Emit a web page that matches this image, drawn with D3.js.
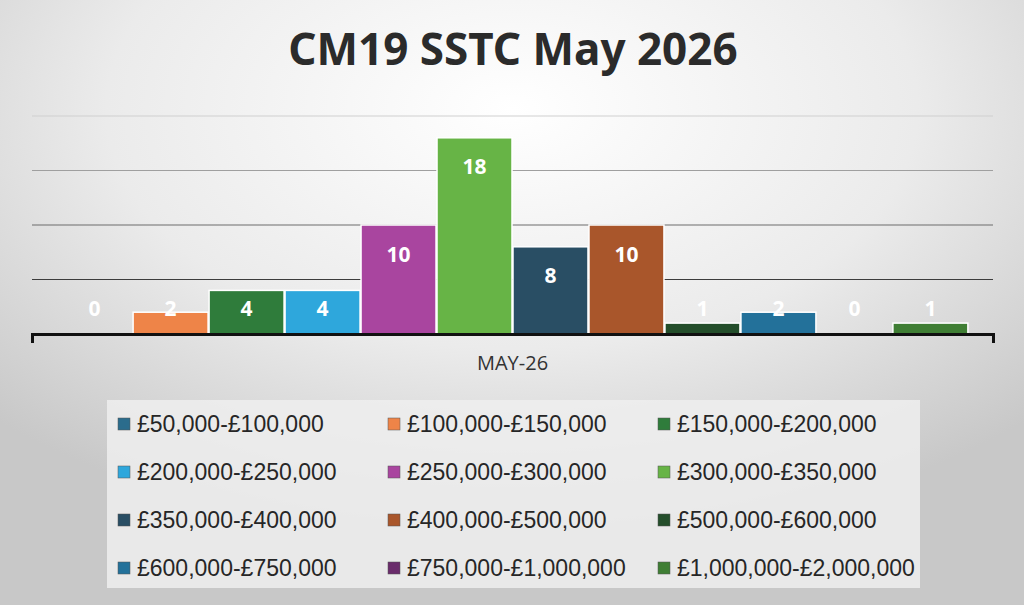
<!DOCTYPE html>
<html>
<head>
<meta charset="utf-8">
<script src="https://cdn.jsdelivr.net/npm/d3@7"></script>
<style>
  html, body { margin: 0; padding: 0; }
  body { width: 1024px; height: 605px; overflow: hidden; }
  text { font-family: "Liberation Sans", Arial, sans-serif; }
</style>
</head>
<body>
<div id="chart"></div>
<script>
// data
const categories = ['MAY-26'];
const bands = [
  '£50,000-£100,000', '£100,000-£150,000', '£150,000-£200,000',
  '£200,000-£250,000', '£250,000-£300,000', '£300,000-£350,000',
  '£350,000-£400,000', '£400,000-£500,000', '£500,000-£600,000',
  '£600,000-£750,000', '£750,000-£1,000,000', '£1,000,000-£2,000,000'
];
const counts = [0, 2, 4, 4, 10, 18, 8, 10, 1, 2, 0, 1];
const colours = [
  '#2b6c8c', '#ee8448', '#2f7c3b', '#2ea7dc', '#a9459f', '#67b446',
  '#294e64', '#a9562b', '#244e2b', '#23719a', '#6a2c6b', '#3f7e34'
];
const gridTicks = [5, 10, 15, 20];

const W = 1024, H = 605;
const plot = { left: 32, right: 993, top: 116, bottom: 334 };

const svg = d3.select('#chart').append('svg')
  .attr('width', W)
  .attr('height', H);

// background
const defs = svg.append('defs');
const bg = defs.append('radialGradient')
  .attr('id', 'bg')
  .attr('cx', '50%').attr('cy', '18%').attr('r', '72%');
bg.append('stop').attr('offset', '0%').attr('stop-color', '#ffffff');
bg.append('stop').attr('offset', '55%').attr('stop-color', '#ebebeb');
bg.append('stop').attr('offset', '100%').attr('stop-color', '#c8c8c8');

svg.append('rect')
  .attr('width', W).attr('height', H)
  .attr('fill', 'url(#bg)');

// title
svg.append('text')
  .attr('x', 513).attr('y', 65)
  .attr('text-anchor', 'middle')
  .style('font-family', '"Noto Sans", sans-serif')
  .style('font-weight', 700)
  .style('font-size', '44px')
  .attr('fill', '#2b2b2b')
  .text('CM19 SSTC May 2026');

// scales
const x0 = d3.scaleBand()
  .domain(categories)
  .range([plot.left, plot.right])
  .paddingInner(0)
  .paddingOuter(0.027);

const x1 = d3.scaleBand()
  .domain(bands)
  .range([0, x0.bandwidth()]);

const y = d3.scaleLinear()
  .domain([0, 20])
  .range([plot.bottom, plot.top]);

const gridColour = d3.scaleLinear()
  .domain([5, 20])
  .range(['#3c3c3c', '#d0d0d0']);

// gridlines
svg.append('g')
  .selectAll('line')
  .data(gridTicks)
  .join('line')
  .attr('x1', plot.left).attr('x2', plot.right)
  .attr('y1', d => y(d)).attr('y2', d => y(d))
  .attr('stroke', d => gridColour(d))
  .attr('stroke-width', 1.2);

// bars
const group = svg.append('g')
  .selectAll('g')
  .data(categories)
  .join('g')
  .attr('transform', d => 'translate(' + x0(d) + ',0)');

group.selectAll('rect')
  .data(bands.map((b, i) => ({ band: b, value: counts[i], colour: colours[i] })))
  .join('rect')
  .attr('x', d => x1(d.band) + 0.5)
  .attr('width', x1.bandwidth() - 1)
  .attr('y', d => y(d.value))
  .attr('height', d => y(0) - y(d.value))
  .attr('fill', d => d.colour)
  .attr('stroke', '#ffffff')
  .attr('stroke-width', d => d.value > 0 ? 1.5 : 0);

group.selectAll('text')
  .data(bands.map((b, i) => ({ band: b, value: counts[i] })))
  .join('text')
  .attr('x', d => x1(d.band) + x1.bandwidth() / 2)
  .attr('y', d => Math.min(y(d.value) + 29, y(0) - 26))
  .attr('dy', '0.36em')
  .attr('text-anchor', 'middle')
  .style('font-family', '"Noto Sans", sans-serif')
  .style('font-weight', 700)
  .style('font-size', '21px')
  .attr('fill', '#ffffff')
  .text(d => d.value);

// x axis
const xAxis = d3.axisBottom(x0)
  .tickSizeInner(0)
  .tickSizeOuter(9)
  .tickPadding(22);

const ax = svg.append('g')
  .attr('transform', 'translate(0,' + plot.bottom + ')')
  .call(xAxis);
ax.select('.domain')
  .attr('stroke', '#111')
  .attr('stroke-width', 3);
ax.selectAll('.tick text')
  .style('font-family', '"Open Sans", sans-serif')
  .style('font-size', '20px')
  .attr('fill', '#333');

// legend
const legend = { x: 107, y: 400, w: 813, h: 188, col: 270, row: 48 };

svg.append('rect')
  .attr('x', legend.x).attr('y', legend.y)
  .attr('width', legend.w).attr('height', legend.h)
  .attr('fill', '#eeeeee')
  .attr('opacity', 0.85);

const items = svg.append('g')
  .selectAll('g')
  .data(bands.map((b, i) => ({ band: b, colour: colours[i], i: i })))
  .join('g')
  .attr('transform', d => 'translate(' + (legend.x + 11 + (d.i % 3) * legend.col) + ',' +
    (legend.y + 24 + Math.floor(d.i / 3) * legend.row) + ')');

items.append('rect')
  .attr('x', 0).attr('y', -6)
  .attr('width', 12).attr('height', 12)
  .attr('fill', d => d.colour)
  .attr('stroke', '#555')
  .attr('stroke-width', 0.5);

items.append('text')
  .attr('x', 19)
  .attr('dy', '0.36em')
  .style('font-size', '23px')
  .attr('fill', '#262626')
  .text(d => d.band);
</script>
</body>
</html>
